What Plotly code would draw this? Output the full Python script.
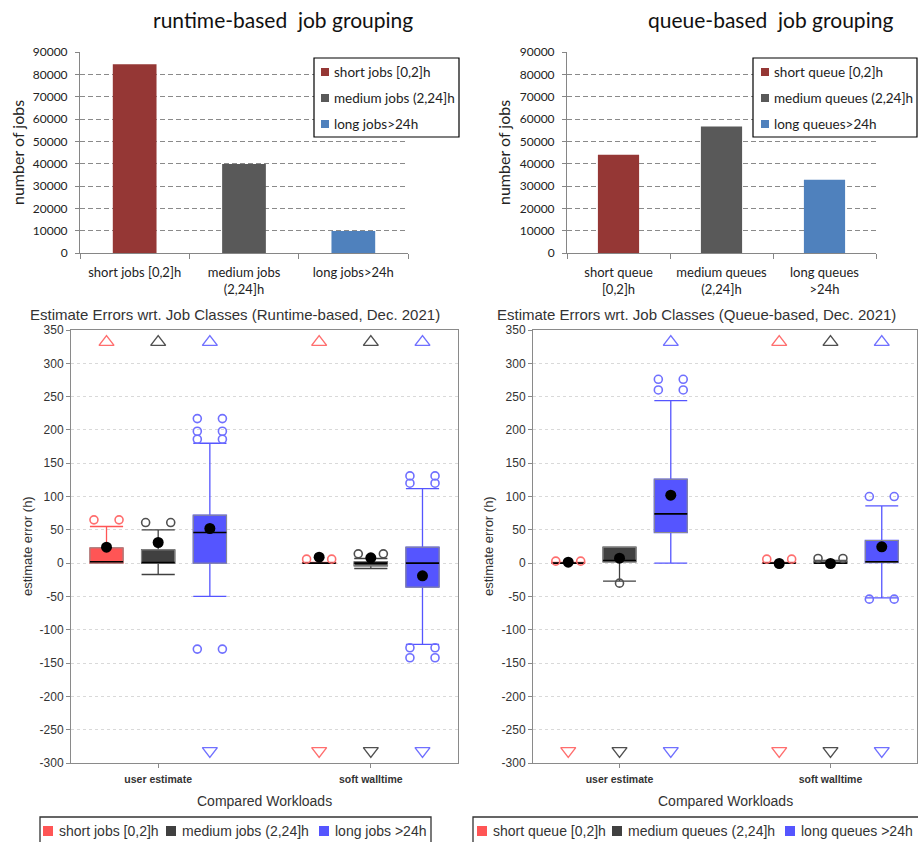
import plotly.graph_objects as go

W, H = 918, 842

# ---------------- job counts per class (bar charts) ----------------
runtime_classes = ["short jobs [0,2]h", "medium jobs<br>(2,24]h", "long jobs>24h"]
runtime_names = ["short jobs [0,2]h", "medium jobs (2,24]h", "long jobs>24h"]
runtime_counts = [84500, 39900, 9850]

queue_classes = ["short queue<br>[0,2]h", "medium queues<br>(2,24]h", "long queues<br>>24h"]
queue_names = ["short queue [0,2]h", "medium queues (2,24]h", "long queues>24h"]
queue_counts = [44000, 56600, 32800]

count_ticks = list(range(0, 90001, 10000))

# ---------------- estimate errors (box plots) ----------------
workloads = ["user estimate", "soft walltime"]
error_ticks = list(range(-300, 351, 50))
rt_legend = ["short jobs [0,2]h", "medium jobs (2,24]h", "long jobs >24h"]
qb_legend = ["short queue [0,2]h", "medium queues (2,24]h", "long queues >24h"]

# rows: short, medium, long class; columns: user estimate, soft walltime
rt_q1 = [[0, 0], [0, -4], [0, -36]]
rt_median = [[2, 0], [1, 0], [46, 0]]
rt_q3 = [[23, 1], [20, 2], [72, 24]]
rt_lower = [[0, 0], [-17, -8], [-50, -122]]
rt_upper = [[55, 1], [50, 7], [180, 112]]
rt_mean = [[24, 9], [31, 8], [52, -19]]
rt_outliers = [[[65], [6]], [[61], [14]], [[186, 198, 217, -129], [120, 131, -127, -142]]]
rt_outliers_single = [[[], []], [[], []], [[], []]]
rt_far_high = [[True, True], [True, True], [True, True]]
rt_far_low = [[False, True], [False, True], [True, True]]

qb_q1 = [[0, 0], [2, 0], [46, 1]]
qb_median = [[0, 0], [4, 0], [74, 2]]
qb_q3 = [[1, 1], [24, 3], [126, 34]]
qb_lower = [[0, 0], [-27, 0], [0, -52]]
qb_upper = [[1, 1], [24, 4], [244, 86]]
qb_mean = [[1.5, -0.5], [7.5, -0.5], [102, 24.5]]
qb_outliers = [[[3], [6]], [[], [7]], [[260, 276], [100, -54]]]
qb_outliers_single = [[[], []], [[-30], []], [[], []]]
qb_far_high = [[False, True], [False, True], [True, True]]
qb_far_low = [[True, True], [True, True], [True, True]]

# ---------------- styling ----------------
bar_colors = ["#953735", "#595959", "#4F81BD"]
box_fills = ["#FF5555", "#404040", "#5555FF"]
whisker_colors = ["#FF5555", "#404040", "#5555FF"]
point_colors = ["#FF6E6E", "#505050", "#7070FF"]
box_outline = "#8C8C8C"
BOX_W = 0.156
CLASS_DX = 0.243
OUT_DX = 0.059
Y_MIN, Y_MAX = -300, 350

CAL = "Lato"
ARI = "Liberation Sans"


def fx(p):
    return p / W


def fy(p):
    return 1 - p / H


fig = go.Figure()

# ---- bars ----
for xa, ya, cats, counts in [("x", "y", runtime_classes, runtime_counts),
                             ("x2", "y2", queue_classes, queue_counts)]:
    for i in range(3):
        fig.add_trace(go.Bar(x=[cats[i]], y=[counts[i]], width=0.4,
                             marker=dict(color=bar_colors[i], line=dict(width=0)),
                             xaxis=xa, yaxis=ya, showlegend=False, hoverinfo="skip"))


# ---- boxes ----
def box_panel(xa, ya, q1, med, q3, lo, hi, mean, outl, outl_single, far_hi, far_lo):
    span = Y_MAX - Y_MIN
    y_top = Y_MAX - 0.028 * span
    y_bot = Y_MIN + 0.028 * span
    for c in range(3):
        pos = [w + (c - 1) * CLASS_DX for w in range(len(workloads))]
        fig.add_trace(go.Box(
            x=pos, q1=q1[c], median=med[c], q3=q3[c],
            lowerfence=lo[c], upperfence=hi[c],
            width=BOX_W, whiskerwidth=1, boxpoints=False,
            fillcolor=box_fills[c], line=dict(color=whisker_colors[c], width=1.3),
            xaxis=xa, yaxis=ya, showlegend=False, hoverinfo="skip"))
        # grey box outline and black median line
        ox, oy, mx, my = [], [], [], []
        for w, p in enumerate(pos):
            a, b = p - BOX_W / 2, p + BOX_W / 2
            ox += [a, b, b, a, a, None]
            oy += [q1[c][w], q1[c][w], q3[c][w], q3[c][w], q1[c][w], None]
            mx += [a, b, None]
            my += [med[c][w], med[c][w], None]
        fig.add_trace(go.Scatter(x=ox, y=oy, mode="lines", line=dict(color=box_outline, width=1),
                                 xaxis=xa, yaxis=ya, showlegend=False, hoverinfo="skip"))
        fig.add_trace(go.Scatter(x=mx, y=my, mode="lines", line=dict(color="black", width=1.6),
                                 xaxis=xa, yaxis=ya, showlegend=False, hoverinfo="skip"))
        # outliers
        px_, py_ = [], []
        for w, p in enumerate(pos):
            for v in outl[c][w]:
                px_ += [p - OUT_DX, p + OUT_DX]
                py_ += [v, v]
            for v in outl_single[c][w]:
                px_.append(p)
                py_.append(v)
        fig.add_trace(go.Scatter(x=px_, y=py_, mode="markers",
                                 marker=dict(symbol="circle-open", size=8, color=point_colors[c],
                                             line=dict(width=1.6, color=point_colors[c])),
                                 xaxis=xa, yaxis=ya, showlegend=False, hoverinfo="skip"))
        # values beyond the axis range
        tx, ty, bx, by = [], [], [], []
        for w, p in enumerate(pos):
            if far_hi[c][w]:
                tx.append(p)
                ty.append(y_top)
            if far_lo[c][w]:
                bx.append(p)
                by.append(y_bot)
        fig.add_trace(go.Scatter(x=tx, y=ty, mode="markers",
                                 marker=dict(symbol="triangle-up-open", size=13, color=point_colors[c],
                                             line=dict(width=1.4, color=point_colors[c])),
                                 xaxis=xa, yaxis=ya, showlegend=False, hoverinfo="skip"))
        fig.add_trace(go.Scatter(x=bx, y=by, mode="markers",
                                 marker=dict(symbol="triangle-down-open", size=13, color=point_colors[c],
                                             line=dict(width=1.4, color=point_colors[c])),
                                 xaxis=xa, yaxis=ya, showlegend=False, hoverinfo="skip"))
        # means
        fig.add_trace(go.Scatter(x=pos, y=mean[c], mode="markers",
                                 marker=dict(symbol="circle", size=11, color="black"),
                                 xaxis=xa, yaxis=ya, showlegend=False, hoverinfo="skip"))


box_panel("x3", "y3", rt_q1, rt_median, rt_q3, rt_lower, rt_upper, rt_mean,
          rt_outliers, rt_outliers_single, rt_far_high, rt_far_low)
box_panel("x4", "y4", qb_q1, qb_median, qb_q3, qb_lower, qb_upper, qb_mean,
          qb_outliers, qb_outliers_single, qb_far_high, qb_far_low)

# ---------------- axes ----------------
bar_x = dict(type="category", showline=True, linecolor="#868686", ticks="outside",
             tickson="boundaries", ticklen=5, tickcolor="#868686", showgrid=False,
             ticklabelstandoff=7, automargin=False,
             tickfont=dict(family=CAL, size=13, color="#222"))
bar_y = dict(range=[0, 90000], tickvals=count_ticks, tickformat="d", showline=True,
             linecolor="#868686", ticks="outside", ticklen=4, tickcolor="#868686",
             showgrid=True, gridcolor="#8a8a8a", griddash="5px,3px", gridwidth=1,
             zeroline=False, automargin=False, ticklabelstandoff=5,
             tickfont=dict(family=CAL, size=12, color="#222"))
box_x = dict(range=[-0.41, 1.41], tickvals=list(range(len(workloads))),
             ticktext=["<b>%s</b>" % w for w in workloads], showline=True, mirror=True,
             linecolor="#8a8a8a", ticks="outside", ticklen=4, tickcolor="#8a8a8a",
             showgrid=False, zeroline=False, automargin=False, ticklabelstandoff=2,
             tickfont=dict(family=ARI, size=10.5, color="#333"))
box_y = dict(range=[Y_MIN, Y_MAX], tickvals=error_ticks, ticktext=[str(v) for v in error_ticks],
             showline=True, mirror=True, linecolor="#8a8a8a", ticks="outside", ticklen=4,
             tickcolor="#8a8a8a", showgrid=True, gridcolor="#d9d9d9", griddash="3px,3px",
             zeroline=False, automargin=False, tickfont=dict(family=ARI, size=12, color="#333"))

fig.update_layout(
    width=W, height=H, margin=dict(l=0, r=0, t=0, b=0, pad=0, autoexpand=False),
    paper_bgcolor="white", plot_bgcolor="white",
    barmode="overlay", showlegend=False,
    font=dict(family=ARI, color="#333"),
    xaxis=dict(bar_x, domain=[fx(80), fx(408)], anchor="y"),
    yaxis=dict(bar_y, domain=[fy(253), fy(52)], anchor="x"),
    xaxis2=dict(bar_x, domain=[fx(567), fx(876)], anchor="y2"),
    yaxis2=dict(bar_y, domain=[fy(253), fy(52)], anchor="x2"),
    xaxis3=dict(box_x, domain=[fx(71), fx(458)], anchor="y3"),
    yaxis3=dict(box_y, domain=[fy(763), fy(330)], anchor="x3"),
    xaxis4=dict(box_x, domain=[fx(533), fx(917)], anchor="y4"),
    yaxis4=dict(box_y, domain=[fy(763), fy(330)], anchor="x4"),
)

annotations = []
shapes = []


def text(x, y, s, size, family, color="#222", angle=0, xanchor="center"):
    annotations.append(dict(x=fx(x), y=fy(y), xref="paper", yref="paper", text=s,
                            showarrow=False, textangle=angle, xanchor=xanchor,
                            yanchor="middle", font=dict(family=family, size=size, color=color)))


# titles
text(283, 20, "runtime-based\u00a0 job grouping", 21, CAL, "#111")
text(770, 20, "queue-based\u00a0 job grouping", 21, CAL, "#111")
text(235, 314, "Estimate Errors wrt. Job Classes (Runtime-based, Dec. 2021)", 15, ARI, "#333")
text(696, 314, "Estimate Errors wrt. Job Classes (Queue-based, Dec. 2021)", 15, ARI, "#333")

# axis titles
text(17, 153, "number of jobs", 16, CAL, "#222", angle=-90)
text(503, 153, "number of jobs", 16, CAL, "#222", angle=-90)
text(27, 546, "estimate error (h)", 13, ARI, "#333", angle=-90)
text(488, 546, "estimate error (h)", 13, ARI, "#333", angle=-90)
text(264, 801, "Compared Workloads", 14, ARI, "#333")
text(725, 801, "Compared Workloads", 14, ARI, "#333")


def legend_box(x0, y0, x1, y1, width=1.2, color="black"):
    shapes.append(dict(type="rect", xref="paper", yref="paper", x0=fx(x0), x1=fx(x1),
                       y0=fy(y1), y1=fy(y0), line=dict(color=color, width=width),
                       fillcolor="white", layer="above"))


def swatch(x, y, size, color):
    shapes.append(dict(type="rect", xref="paper", yref="paper", x0=fx(x), x1=fx(x + size),
                       y0=fy(y + size / 2), y1=fy(y - size / 2), line=dict(width=0),
                       fillcolor=color, layer="above"))


# bar chart legends (vertical)
for (bx0, bx1, sx, names) in [(314, 459, 321, runtime_names), (753, 917, 761, queue_names)]:
    legend_box(bx0, 58, bx1, 137)
    for i, name in enumerate(names):
        yy = 72 + 26 * i
        swatch(sx, yy, 8, bar_colors[i])
        text(sx + 11, yy, name, 13.5, CAL, "#222", xanchor="left")

# box plot legends (horizontal)
for (bx0, bx1, sxs, names) in [(40, 431, [43, 166, 319], rt_legend),
                               (473, 919, [477, 612, 785], qb_legend)]:
    legend_box(bx0, 817, bx1, 850, width=1.3, color="#333")
    for i, name in enumerate(names):
        swatch(sxs[i], 831, 10, box_fills[i])
        text(sxs[i] + 14, 831, name, 14, ARI, "#333", xanchor="left")

fig.update_layout(annotations=annotations, shapes=shapes)
fig.write_html("out.html")
